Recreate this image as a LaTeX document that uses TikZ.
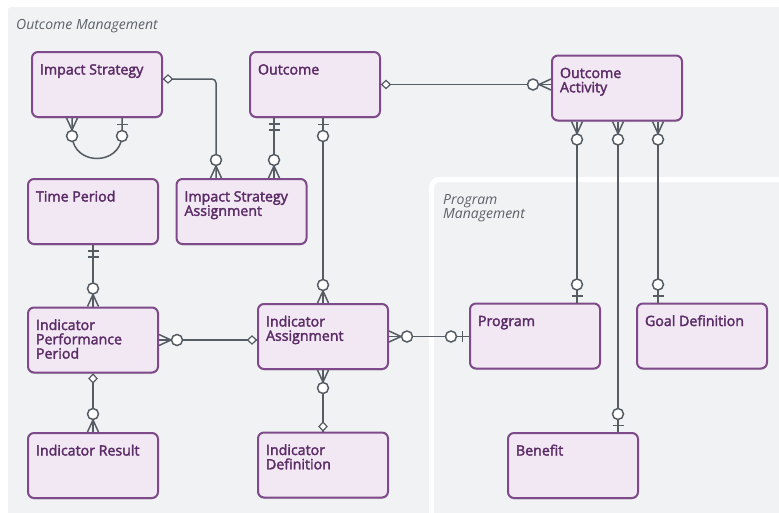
\documentclass[tikz,border=0pt]{standalone}
\usepackage{fontspec}
\setmainfont{Open Sans}
\newfontfamily\titlefont{Open Sans}[FakeBold=2.3]
\usetikzlibrary{calc,shadows}
\definecolor{bgc}{HTML}{F1F2F4}
\definecolor{boxfill}{HTML}{F1E8F4}
\definecolor{boxline}{HTML}{7E4A8A}
\definecolor{titlec}{HTML}{5B2C66}
\definecolor{linec}{HTML}{555C64}
\definecolor{headc}{HTML}{5C6168}
\newcommand\etitle[1]{\parbox[t][42pt][t]{114pt}{\raggedright\titlefont\fontsize{14.2}{14.3}\selectfont\color{titlec}\rule{0pt}{11pt}#1}}
\tikzset{
 ent/.style={draw=boxline, line width=2pt, fill=boxfill, rounded corners=6pt, minimum width=130pt, minimum height=65pt, inner xsep=8pt, inner ysep=0pt, drop shadow={shadow xshift=0pt, shadow yshift=-1.5pt, opacity=0.12, fill=black}},
 conn/.style={draw=linec, line width=1.5pt},
 pics/crowo/.style={code={\draw[conn,line join=miter] (0,-5.5) -- (12,0) -- (0,5.5); \draw[conn,fill=white] (18,0) circle[radius=5.5];}},
 pics/baro/.style={code={\draw[conn] (6.5,-5.5) -- (6.5,5.5); \draw[conn,fill=white] (18,0) circle[radius=5.5];}},
 pics/dbar/.style={code={\draw[conn] (6,-5.5) -- (6,5.5) (12,-5.5) -- (12,5.5);}},
 pics/dmd/.style={code={\draw[conn,fill=white,line width=1.2pt] (0.6,0) -- (5,-4) -- (9.4,0) -- (5,4) -- cycle;}},
 head/.style={font=\itshape\fontsize{14}{14}\selectfont, text=headc, inner sep=0pt, align=left},
}
\begin{document}
\begin{tikzpicture}[x=1pt,y=-1pt]
\useasboundingbox (0,0) rectangle (779,512);
\fill[bgc, rounded corners=3pt] (8,7) rectangle (800,530);
\draw[white, line width=5pt, fill=bgc, rounded corners=8pt] (431.5,179.5) rectangle (820,540);
\node[head, anchor=base west] (hOM) at (16,29) {Outcome Management};
\node[head, anchor=north west] (hPM) at (443,194) {Program\\Management};
% entities
\node[ent] (IS) at (97,84.5) {\etitle{Impact Strategy}};
\node[ent] (OUT) at (315,84.5) {\etitle{Outcome}};
\node[ent] (OA) at (617,88) {\etitle{Outcome\\Activity}};
\node[ent] (TP) at (93,211.5) {\etitle{Time Period}};
\node[ent] (ISA) at (241.5,211.5) {\etitle{Impact Strategy\\Assignment}};
\node[ent] (IPP) at (93,340) {\etitle{Indicator\\Performance\\Period}};
\node[ent] (IA) at (323,336.5) {\etitle{Indicator\\Assignment}};
\node[ent] (IR) at (93,465.5) {\etitle{Indicator Result}};
\node[ent] (ID) at (323,465) {\etitle{Indicator\\Definition}};
\node[ent] (PR) at (535,336) {\etitle{Program}};
\node[ent] (GD) at (702,336) {\etitle{Goal Definition}};
\node[ent] (BEN) at (573,465.5) {\etitle{Benefit}};
% connector end points
\coordinate (isL) at ($(IS.south)+(-25,0)$);
\coordinate (isR) at ($(IS.south)+(25,0)$);
\coordinate (isE) at ($(IS.east)+(0,-5.5)$);
\coordinate (isaA) at ($(ISA.north)+(-25.5,0)$);
\coordinate (isaB) at ($(ISA.north)+(32.5,0)$);
\coordinate (outA) at (isaB |- OUT.south);
\coordinate (outB) at (IA.north |- OUT.south);
\coordinate (oaW) at (OUT.east -| OA.west);
\coordinate (oa1) at ($(OA.south)+(-40,0)$);
\coordinate (oa2) at ($(OA.south)+(1,0)$);
\coordinate (oa3) at ($(OA.south)+(41,0)$);
\coordinate (pr1) at (oa1 |- PR.north);
\coordinate (ben1) at (oa2 |- BEN.north);
\coordinate (gd1) at (oa3 |- GD.north);
\coordinate (iaW) at (IPP.east -| IA.west);
\coordinate (prW) at (IA.east -| PR.west);
% connectors
\draw[conn] (isL) -- ++(0,18) .. controls ($(isL)+(2,48)$) and ($(isR)+(-2,48)$) .. ($(isR)+(0,18)$) -- (isR);
\draw[conn, rounded corners=4pt] (isE) -| (isaA);
\draw[conn] (outA) -- (isaB);
\draw[conn] (outB) -- (IA.north);
\draw[conn] (OUT.east) -- (oaW);
\draw[conn] (oa1) -- (pr1);
\draw[conn] (oa2) -- (ben1);
\draw[conn] (oa3) -- (gd1);
\draw[conn] (TP.south) -- (IPP.north);
\draw[conn] (IPP.east) -- (iaW);
\draw[conn] (IPP.south) -- (IR.north);
\draw[conn] (IA.south) -- (ID.north);
\draw[conn] (IA.east) -- (prW);
% markers
\pic[rotate=-90] at (isL) {crowo};
\pic[rotate=-90] at (isR) {baro};
\pic at (isE) {dmd};
\pic[rotate=90] at (isaA) {crowo};
\pic[rotate=-90] at (outA) {dbar};
\pic[rotate=90] at (isaB) {crowo};
\pic[rotate=-90] at (outB) {baro};
\pic[rotate=90] at (IA.north) {crowo};
\pic at (OUT.east) {dmd};
\pic[rotate=180] at (oaW) {crowo};
\pic[rotate=-90] at (oa1) {crowo};
\pic[rotate=-90] at (oa2) {crowo};
\pic[rotate=-90] at (oa3) {crowo};
\pic[rotate=90] at (pr1) {baro};
\pic[rotate=90] at (ben1) {baro};
\pic[rotate=90] at (gd1) {baro};
\pic[rotate=-90] at (TP.south) {dbar};
\pic[rotate=90] at (IPP.north) {crowo};
\pic at (IPP.east) {crowo};
\pic[rotate=180] at (iaW) {dmd};
\pic[rotate=-90] at (IPP.south) {dmd};
\pic[rotate=90] at (IR.north) {crowo};
\pic[rotate=-90] at (IA.south) {crowo};
\pic[rotate=90] at (ID.north) {dmd};
\pic at (IA.east) {crowo};
\pic[rotate=180] at (prW) {baro};
\end{tikzpicture}
\end{document}
